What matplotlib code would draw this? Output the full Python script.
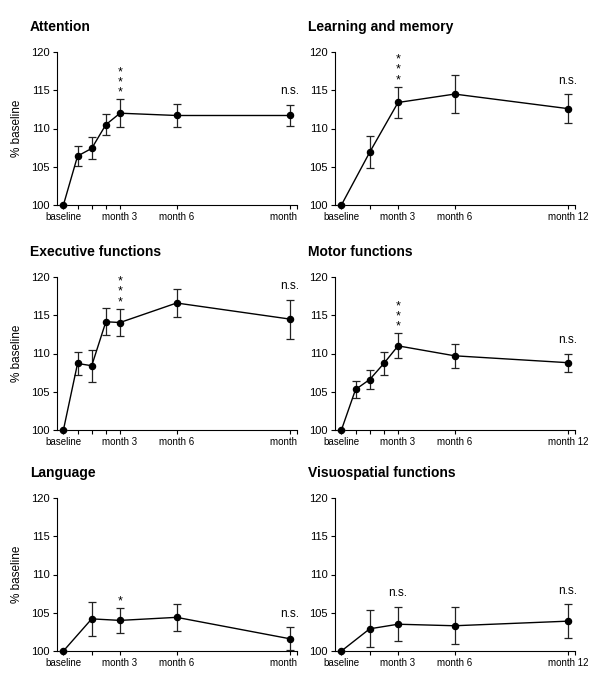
import matplotlib
matplotlib.use('Agg')
from matplotlib import pyplot as plt
from matplotlib.transforms import Bbox, TransformedBbox

plt.rcParams['font.family'] = ['Liberation Sans', 'DejaVu Sans']

# months after baseline at which each domain was measured
x_full = [0, 0.75, 1.5, 2.25, 3, 6, 12]
x_short = [0, 1.5, 3, 6, 12]

titles = ['Attention', 'Learning and memory', 'Executive functions',
          'Motor functions', 'Language', 'Visuospatial functions']

attention = [100, 106.4, 107.4, 110.5, 112.0, 111.7, 111.7]
attention_err = [0, 1.35, 1.45, 1.4, 1.8, 1.45, 1.4]

learning = [100, 106.9, 113.4, 114.5, 112.6]
learning_err = [0, 2.1, 2.05, 2.45, 1.85]

executive = [100, 108.7, 108.4, 114.15, 114.05, 116.6, 114.5]
executive_err = [0, 1.5, 2.1, 1.75, 1.8, 1.85, 2.55]

motor = [100, 105.3, 106.6, 108.7, 111.0, 109.7, 108.8]
motor_err = [0, 1.1, 1.3, 1.45, 1.65, 1.6, 1.2]

language = [100, 104.2, 104.0, 104.4, 101.6]
language_err = [0, 2.2, 1.6, 1.8, 1.5]

visuo = [100, 102.9, 103.5, 103.3, 103.9]
visuo_err = [0, 2.4, 2.25, 2.4, 2.2]

# significance marks: (month, label)
signif = [
    [(3, '***'), (12, 'n.s.')],
    [(3, '***'), (12, 'n.s.')],
    [(3, '***'), (12, 'n.s.')],
    [(3, '***'), (12, 'n.s.')],
    [(3, '*'), (12, 'n.s.')],
    [(3, 'n.s.'), (12, 'n.s.')],
]

panels = [
    (x_full, attention, attention_err),
    (x_short, learning, learning_err),
    (x_full, executive, executive_err),
    (x_full, motor, motor_err),
    (x_short, language, language_err),
    (x_short, visuo, visuo_err),
]

tick_names = {0: 'baseline', 3: 'month 3', 6: 'month 6', 12: 'month 12'}
XMIN, XMAX = -0.34, 12.38

W, H = 600, 686
fig = plt.figure(figsize=(W / 100, H / 100), dpi=100)

lefts = [57, 335]
tops = [52, 277, 498]
aw, ah = 240, 153
title_x = [30, 308]

for i, (xs, ys, errs) in enumerate(panels):
    row, col = divmod(i, 2)
    l = lefts[col]
    t = tops[row]
    ax = fig.add_axes([l / W, 1 - (t + ah) / H, aw / W, ah / H])

    ax.errorbar(xs, ys, yerr=errs, color='black', ecolor='#222222',
                elinewidth=0.9, capsize=3.2, capthick=0.9,
                marker='o', markersize=4.4, linewidth=1.0, clip_on=False,
                zorder=3)

    ax.set_xlim(XMIN, XMAX)
    ax.set_ylim(100, 120)
    ax.set_yticks([100, 105, 110, 115, 120])

    ticks = list(xs[1:]) + [XMAX]
    ax.set_xticks([0] + ticks)
    labels = ax.set_xticklabels([tick_names.get(v, '') for v in [0] + ticks])

    for s in ['top', 'right']:
        ax.spines[s].set_visible(False)
    for s in ['left', 'bottom']:
        ax.spines[s].set_linewidth(0.8)
    ax.tick_params(axis='y', direction='out', length=3, width=0.8,
                   labelsize=8, pad=2)
    ax.tick_params(axis='x', direction='out', length=3, width=0.8,
                   labelsize=7, pad=2)

    if col == 0:
        ax.set_ylabel('% baseline', fontsize=8.5)
        ax.yaxis.set_label_coords(-0.14, 0.5)
        # the left column's "month 12" is cut off at the panel edge
        box = TransformedBbox(Bbox([[0, 0], [(l + aw + 1) / W, 1]]),
                              fig.transFigure)
        lab = labels[-2]
        lab.set_clip_box(box)
        lab.set_clip_on(True)

    fig.text(title_x[col] / W, 1 - (t - 25) / H, titles[i],
             fontsize=10, fontweight='bold', va='center', ha='left')

    for mx, lab in signif[i]:
        k = xs.index(mx)
        top = ys[k] + errs[k]
        if lab.startswith('*'):
            ax.annotate('\n'.join(lab), (mx, top), xytext=(0, 0.5),
                        textcoords='offset points', ha='center',
                        va='bottom', fontsize=9, linespacing=0.8,
                        annotation_clip=False)
        else:
            ax.annotate(lab, (mx, top), xytext=(0, 5.5),
                        textcoords='offset points', ha='center',
                        va='bottom', fontsize=8.5, annotation_clip=False)

fig.savefig('out.png', dpi=100)
